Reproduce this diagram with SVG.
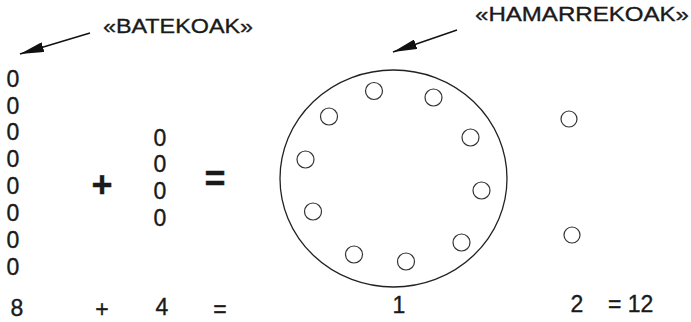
<svg xmlns="http://www.w3.org/2000/svg" width="691" height="322" viewBox="0 0 691 322">
<style>
  text { font-family: "Liberation Sans", Arial, sans-serif; fill: #1a1a1a; stroke: #1a1a1a; stroke-width: 0.35; }
  .lbl { font-size: 20px; }
  .d { font-size: 23px; text-anchor: middle; }
  .big { font-size: 36px; font-weight: bold; text-anchor: middle; }
  .ring { fill: none; stroke: #222; stroke-width: 1.3; }
  .bead { fill: #fff; stroke: #333; stroke-width: 1.2; }
  .arrow { stroke: #111; stroke-width: 1.4; fill: none; }
</style>
<defs>
  <marker id="ah" viewBox="0 0 24 10" refX="24" refY="5" markerWidth="24" markerHeight="10" markerUnits="userSpaceOnUse" orient="auto">
    <path d="M0,0 L24,5 L0,10 Z" fill="#111"/>
  </marker>
</defs>
<rect width="691" height="322" fill="#fff"/>

<g id="connectors">
  <line class="arrow" x1="90" y1="33" x2="20" y2="54" marker-end="url(#ah)"/>
  <line class="arrow" x1="457" y1="30" x2="393" y2="52" marker-end="url(#ah)"/>
</g>

<g id="label-batekoak">
  <text class="lbl" x="103" y="33" textLength="150" lengthAdjust="spacingAndGlyphs">«BATEKOAK»</text>
</g>
<g id="label-hamarrekoak">
  <text class="lbl" x="475" y="21" textLength="214" lengthAdjust="spacingAndGlyphs">«HAMARREKOAK»</text>
</g>

<g id="ones-8">
  <text class="d" x="13" y="87">0</text>
  <text class="d" x="13" y="114">0</text>
  <text class="d" x="13" y="140">0</text>
  <text class="d" x="13" y="167">0</text>
  <text class="d" x="13" y="194">0</text>
  <text class="d" x="13" y="221">0</text>
  <text class="d" x="13" y="248">0</text>
  <text class="d" x="13" y="275">0</text>
</g>

<g id="plus-big">
  <text class="big" x="102" y="197">+</text>
</g>

<g id="ones-4">
  <text class="d" x="160" y="146">0</text>
  <text class="d" x="160" y="172">0</text>
  <text class="d" x="160" y="199">0</text>
  <text class="d" x="160" y="226">0</text>
</g>

<g id="equals-big">
  <text class="big" x="215" y="191">=</text>
</g>

<g id="ten">
  <ellipse class="ring" cx="393.5" cy="178.5" rx="113.5" ry="108.5"/>
  <circle class="bead" cx="374" cy="91" r="8.5"/>
  <circle class="bead" cx="433.5" cy="97.5" r="8.5"/>
  <circle class="bead" cx="329" cy="116.5" r="8.5"/>
  <circle class="bead" cx="470.5" cy="137.5" r="8.5"/>
  <circle class="bead" cx="305.5" cy="159.5" r="8.5"/>
  <circle class="bead" cx="481.5" cy="190.5" r="8.5"/>
  <circle class="bead" cx="313" cy="211.5" r="8.5"/>
  <circle class="bead" cx="461.5" cy="242.5" r="8.5"/>
  <circle class="bead" cx="354" cy="254.5" r="8.5"/>
  <circle class="bead" cx="406" cy="261.5" r="8.5"/>
</g>

<g id="ones-2">
  <circle class="bead" cx="569" cy="119" r="8"/>
  <circle class="bead" cx="572" cy="235" r="8"/>
</g>

<g id="bottom-row">
  <text class="d" x="17" y="316">8</text>
  <text class="d" x="102" y="317" font-size="21">+</text>
  <text class="d" x="162" y="315">4</text>
  <text class="d" x="220" y="317" font-size="21">=</text>
  <text class="d" x="399" y="313">1</text>
  <text class="d" x="577" y="312">2</text>
  <text x="608" y="312" font-size="23">= 12</text>
</g>
</svg>
